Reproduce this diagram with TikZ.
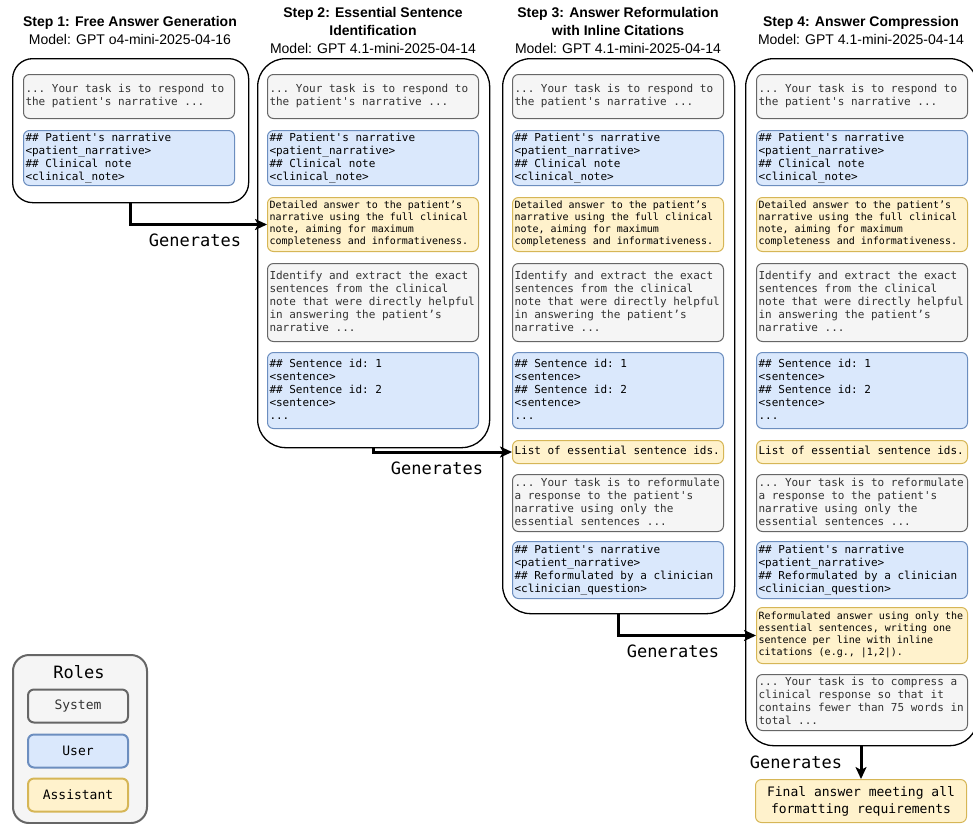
\documentclass[tikz,border=0pt]{standalone}
\usepackage{fontspec}
\setmainfont{Liberation Sans}
\setmonofont{DejaVu Sans Mono}
\usetikzlibrary{arrows.meta}

\definecolor{sysfill}{HTML}{F5F5F5}
\definecolor{sysline}{HTML}{666666}
\definecolor{systext}{HTML}{333333}
\definecolor{usrfill}{HTML}{DAE8FC}
\definecolor{usrline}{HTML}{6C8EBF}
\definecolor{astfill}{HTML}{FFF2CC}
\definecolor{astline}{HTML}{D6B656}

\newcommand{\respondtxt}{... Your task is to respond to\\the patient's narrative ...}
\newcommand{\notetxt}{\#\# Patient's narrative\\<patient\_narrative>\\\#\# Clinical note\\<clinical\_note>}
\newcommand{\answertxt}{Detailed answer to the patient’s\\narrative using the full clinical\\note, aiming for maximum\\completeness and informativeness.}
\newcommand{\extracttxt}{Identify and extract the exact\\sentences from the clinical\\note that were directly helpful\\in answering the patient’s\\narrative ...}
\newcommand{\sentencetxt}{\#\# Sentence id: 1\\<sentence>\\\#\# Sentence id: 2\\<sentence>\\...}
\newcommand{\idstxt}{List of essential sentence ids.}
\newcommand{\reformtxt}{... Your task is to reformulate\\a response to the patient's\\narrative using only the\\essential sentences ...}
\newcommand{\cliniciantxt}{\#\# Patient's narrative\\<patient\_narrative>\\\#\# Reformulated by a clinician\\<clinician\_question>}
% left-aligned block of lines, as wide as the box
\newcommand{\msgtext}[1]{\makebox[207pt][l]{\begin{tabular}{@{}l@{}}#1\end{tabular}}}

\tikzset{
  stephead/.style={align=center, font=\fontsize{14}{18}\selectfont},
  stepbox/.style={draw, line width=1.3pt, fill=white, anchor=north west, inner sep=0pt, rounded corners=28pt},
  msg/.style={anchor=north west, rounded corners=6pt, line width=1pt, inner xsep=2pt, inner ysep=0pt,
    minimum width=211pt, minimum height=#1, font=\ttfamily\fontsize{11}{13}\selectfont},
  sys/.style={msg=#1, draw=sysline, fill=sysfill, text=systext},
  usr/.style={msg=#1, draw=usrline, fill=usrfill},
  ast/.style={msg=#1, draw=astline, fill=astfill, font=\ttfamily\fontsize{10}{12}\selectfont},
  genarrow/.style={line width=3pt, -{Stealth[length=12pt, width=11pt, inset=3pt]}},
  genlabel/.style={font=\ttfamily\fontsize{17}{20}\selectfont},
  rolebox/.style={draw=#1line, fill=#1fill, line width=2pt, rounded corners=6pt, minimum width=100pt,
    minimum height=33pt, font=\ttfamily\fontsize{13}{15}\selectfont},
}

\begin{document}
\begin{tikzpicture}[x=1pt, y=-1pt]
\useasboundingbox (0,0) rectangle (973,823);

% headers
\node[stephead] (head1) at (130,30) {\textbf{Step 1: Free Answer Generation}\\Model: GPT o4-mini-2025-04-16};
\node[stephead] (head2) at (373,30) {\textbf{Step 2: Essential Sentence}\\\textbf{Identification}\\Model: GPT 4.1-mini-2025-04-14};
\node[stephead] (head3) at (618,30) {\textbf{Step 3: Answer Reformulation}\\\textbf{with Inline Citations}\\Model: GPT 4.1-mini-2025-04-14};
\node[stephead] (head4) at (861,30) {\textbf{Step 4: Answer Compression}\\Model: GPT 4.1-mini-2025-04-14};

% step frames
\node[stepbox, rounded corners=20pt, minimum width=236pt, minimum height=144pt] (box1) at (12,58) {};
\node[stepbox, minimum width=232pt, minimum height=389pt] (box2) at (257,58) {};
\node[stepbox, minimum width=232pt, minimum height=555pt] (box3) at (502,58) {};
\node[stepbox, minimum width=232pt, minimum height=687pt] (box4) at (745,58) {};

% step 1
\node[sys=44pt] (sys1) at (23,74) {\msgtext{\respondtxt}};
\node[usr=55pt] (usr1) at (23,130) {\msgtext{\notetxt}};

% shared blocks of steps 2-4
\foreach \s/\x in {2/267,3/512,4/756}{
  \node[sys=44pt] (sys\s) at (\x,74) {\msgtext{\respondtxt}};
  \node[usr=55pt] (usr\s) at (\x,130) {\msgtext{\notetxt}};
  \node[ast=54pt] (ans\s) at (\x,197) {\msgtext{\answertxt}};
  \node[sys=78pt] (extract\s) at (\x,263) {\msgtext{\extracttxt}};
  \node[usr=76pt] (sent\s) at (\x,352) {\msgtext{\sentencetxt}};
}

% steps 3-4
\foreach \s/\x in {3/512,4/756}{
  \node[ast=23pt, font=\ttfamily\fontsize{11}{13}\selectfont] (ids\s) at (\x,440) {\msgtext{\idstxt}};
  \node[sys=57pt] (reform\s) at (\x,474) {\msgtext{\reformtxt}};
  \node[usr=57pt] (clin\s) at (\x,541) {\msgtext{\cliniciantxt}};
}

% step 4
\node[ast=56pt] (cited4) at (756,607) {\msgtext{Reformulated answer using only the\\essential sentences, writing one\\sentence per line with inline\\citations (e.g., |1,2|).}};
\node[sys=56pt] (compress4) at (756,674) {\msgtext{... Your task is to compress a\\clinical response so that it\\contains fewer than 75 words in\\total ...}};

\node[ast=43pt, align=center, font=\ttfamily\fontsize{13}{17}\selectfont] (final) at (755,779) {Final answer meeting all\\formatting requirements};

% generation arrows
\draw[genarrow] (box1.south) |- (ans2.west);
\draw[genarrow] (box2.south) |- (ids3.west);
\draw[genarrow] (box3.south) |- (cited4.west);
\draw[genarrow] (box4.south -| final.north) -- (final.north);
\node[genlabel] (gen1) at (195,240) {Generates};
\node[genlabel] (gen2) at (437,468) {Generates};
\node[genlabel] (gen3) at (673,651) {Generates};
\node[genlabel] (gen4) at (796,762) {Generates};

% legend
\node[draw=sysline, fill=sysfill, line width=2pt, rounded corners=16pt, anchor=north west,
  minimum width=134pt, minimum height=168pt] (roles) at (12,654) {};
\node[font=\ttfamily\fontsize{17}{20}\selectfont] (rolestitle) at (79,672) {Roles};
\node[rolebox=sys, text=systext] (rsys) at (78,706) {System};
\node[rolebox=usr] (rusr) at (78,751) {User};
\node[rolebox=ast] (rast) at (78,795) {Assistant};
\end{tikzpicture}
\end{document}
